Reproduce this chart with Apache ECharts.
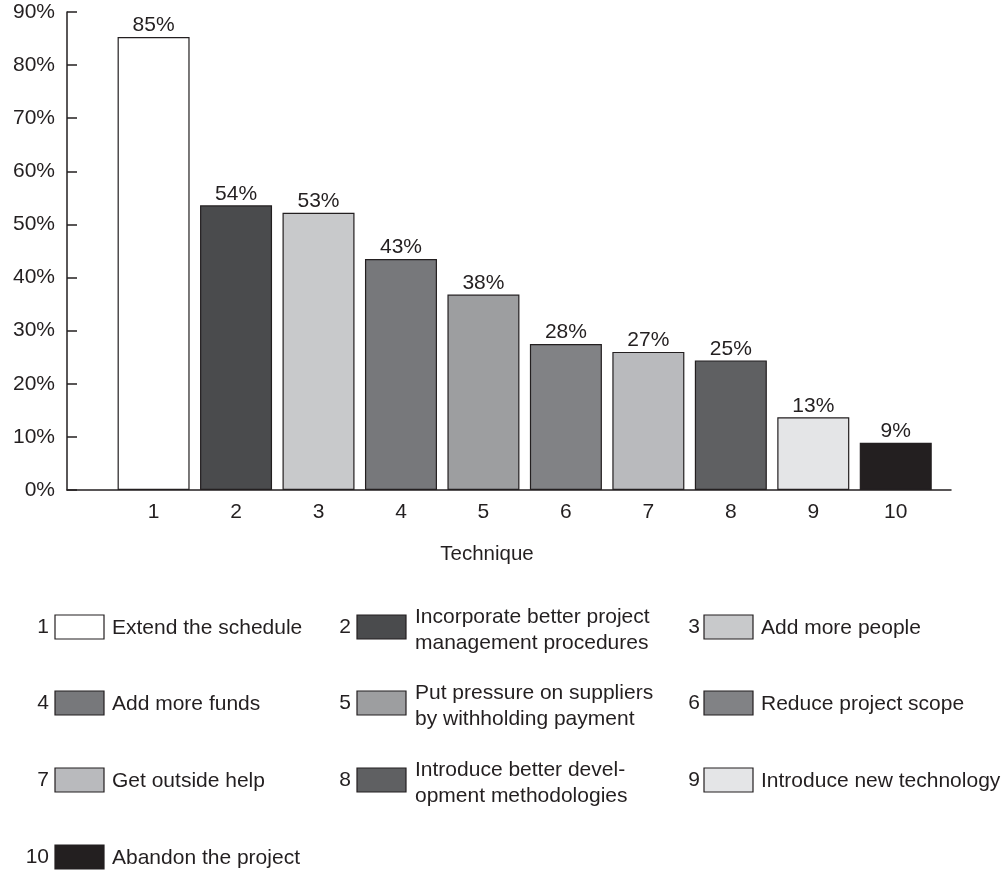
<!DOCTYPE html>
<html>
<head>
<meta charset="utf-8">
<script src="https://cdn.jsdelivr.net/npm/echarts@6/dist/echarts.min.js"></script>
<style>
  html, body { margin: 0; padding: 0; background: #fff; }
  #chart { width: 1008px; height: 874px; }
</style>
</head>
<body>
<div id="chart"></div>
<script>
// bar data
const techniques = [1, 2, 3, 4, 5, 6, 7, 8, 9, 10];
const shares = [85.3, 53.6, 52.2, 43.5, 36.8, 27.5, 26.0, 24.4, 13.7, 8.9];
const shareLabels = ['85%', '54%', '53%', '43%', '38%', '28%', '27%', '25%', '13%', '9%'];
const fills = ['#ffffff', '#4a4b4d', '#c8c9cb', '#77787b', '#9d9ea0', '#818285', '#b9babd', '#5f6062', '#e4e5e7', '#231f20'];
const legendNames = [
  'Extend the schedule',
  'Incorporate better project\nmanagement procedures',
  'Add more people',
  'Add more funds',
  'Put pressure on suppliers\nby withholding payment',
  'Reduce project scope',
  'Get outside help',
  'Introduce better devel-\nopment methodologies',
  'Introduce new technology',
  'Abandon the project'
];
const yTicks = [0, 10, 20, 30, 40, 50, 60, 70, 80, 90];

const INK = '#231f20';
const FONT = '"Liberation Sans", Arial, Helvetica, sans-serif';

// legend: 3 columns, 4 rows
const colNum = [49, 351, 700];
const colBox = [55, 357, 704];
const colText = [112, 415, 761];
const rowY = [627, 703, 780, 857];

function buildLegend() {
  const items = [];
  techniques.forEach((t, i) => {
    const c = i % 3, r = Math.floor(i / 3);
    const y = rowY[r];
    const twoLines = legendNames[i].indexOf('\n') >= 0;
    items.push({
      type: 'text', z: 10,
      position: [colNum[c], y],
      style: { text: String(t), x: 0, y: 0, align: 'right', verticalAlign: 'middle', font: '21px ' + FONT, fill: INK }
    });
    items.push({
      type: 'rect', z: 10,
      shape: { x: colBox[c], y: y - 12, width: 49, height: 24 },
      style: { fill: fills[i], stroke: INK, lineWidth: 1.2 }
    });
    items.push({
      type: 'text', z: 10,
      position: [colText[c], twoLines ? y + 3 : y + 1],
      style: { text: legendNames[i], x: 0, y: 0, align: 'left', verticalAlign: 'middle', font: '21px ' + FONT, fill: INK, lineHeight: 26 }
    });
  });
  return items;
}

const chart = echarts.init(document.getElementById('chart'), null, { renderer: 'canvas' });
chart.setOption({
  animation: false,
  backgroundColor: '#fff',
  textStyle: { fontFamily: FONT, color: INK },
  grid: { left: 67, right: 57, top: 12, bottom: 384, containLabel: false },
  xAxis: {
    type: 'value',
    min: -0.05,
    max: 10.67,
    name: 'Technique',
    nameLocation: 'middle',
    nameGap: 54,
    nameTextStyle: { fontSize: 20.5, color: INK, fontFamily: FONT, padding: [0, 44, 0, 0] },
    axisLine: { show: true, onZero: false, lineStyle: { color: INK, width: 1.5 } },
    axisTick: { show: false },
    splitLine: { show: false },
    axisLabel: {
      customValues: techniques,
      fontSize: 21, color: INK, fontFamily: FONT, margin: 12
    }
  },
  yAxis: {
    type: 'value',
    min: 0,
    max: 90,
    interval: 10,
    axisLine: { show: true, onZero: false, lineStyle: { color: INK, width: 1.5 } },
    axisTick: { show: true, inside: true, length: 10, lineStyle: { color: INK, width: 1.5 } },
    splitLine: { show: false },
    axisLabel: {
      customValues: yTicks,
      formatter: '{value}%',
      fontSize: 21, color: INK, fontFamily: FONT, margin: 12
    }
  },
  series: [{
    type: 'bar',
    barWidth: 72,
    data: techniques.map((t, i) => ({
      value: [t, shares[i]],
      itemStyle: { color: fills[i], borderColor: INK, borderWidth: 1.2 }
    })),
    label: {
      show: true,
      position: 'top',
      distance: 1,
      fontSize: 21,
      color: INK,
      fontFamily: FONT,
      formatter: p => shareLabels[p.dataIndex]
    }
  }],
  graphic: buildLegend()
});
</script>
</body>
</html>
